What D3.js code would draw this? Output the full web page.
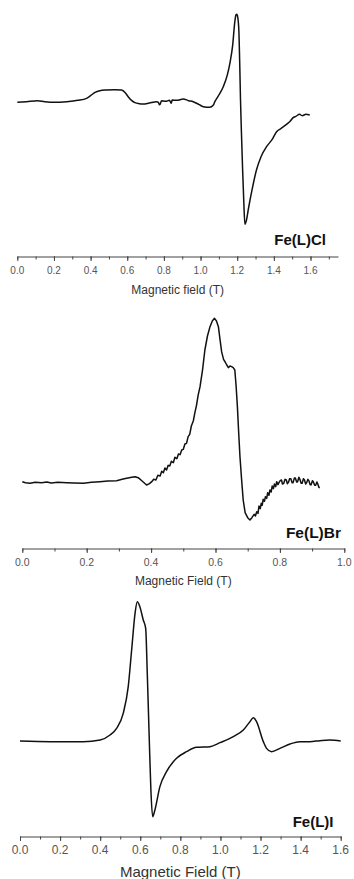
<!DOCTYPE html>
<html>
<head>
<meta charset="utf-8">
<script src="https://cdn.jsdelivr.net/npm/d3@7"></script>
<style>
    body { margin: 0; background: #fff; }
    svg { display: block; font-family: "Liberation Sans", Arial, sans-serif; }
    .tick-label { fill: #555; }
    .axis-title { fill: #333; }
    .sample { font-weight: bold; fill: #111; }
</style>
</head>
<body>
<svg width="354" height="879"></svg>
<script>
// Fe(L)Cl spectrum
let clField = [0.000, 0.050, 0.110, 0.150, 0.200, 0.270, 0.330, 0.378, 0.400, 0.424, 0.450, 0.487, 0.530, 0.569, 0.590, 0.605,
    0.625, 0.642, 0.665, 0.687, 0.720, 0.760, 0.770, 0.775, 0.780, 0.787, 0.810, 0.830, 0.840, 0.845, 0.870, 0.905,
    0.935, 0.960, 0.990, 1.015, 1.050, 1.070, 1.078, 1.100, 1.124, 1.145, 1.160, 1.175, 1.187, 1.193, 1.198, 1.203,
    1.209, 1.214, 1.218, 1.223, 1.229, 1.236, 1.242, 1.250, 1.260, 1.280, 1.305, 1.330, 1.360, 1.390, 1.415, 1.440,
    1.469, 1.490, 1.505, 1.520, 1.540, 1.555, 1.575, 1.596]
let clSignal = [0, 2, 5, 2, 0, 2, 6, 12, 20, 30, 35, 37, 38, 37, 28, 17,
    5, -1, -4, -5, -2, 2, 0, -7, -5, 5, 3, 6, -3, 7, 6, 10,
    5, 2, -6, -13, -15, -8, 2, 22, 47, 80, 117, 170, 242, 262, 264, 255,
    215, 110, 7, -90, -193, -300, -366, -355, -323, -265, -203, -163, -133, -112, -88, -78,
    -66, -56, -46, -42, -36, -40, -36, -38]

// Fe(L)Br spectrum
let brField = [0.000, 0.010, 0.024, 0.040, 0.060, 0.076, 0.090, 0.110, 0.138, 0.160, 0.190, 0.215, 0.241, 0.265, 0.293, 0.310,
    0.324, 0.340, 0.350, 0.360, 0.372, 0.386, 0.395, 0.402, 0.408, 0.415, 0.421, 0.428, 0.433, 0.438, 0.443, 0.448,
    0.453, 0.458, 0.463, 0.469, 0.474, 0.480, 0.485, 0.490, 0.495, 0.500, 0.505, 0.510, 0.515, 0.520, 0.525, 0.531,
    0.536, 0.541, 0.546, 0.552, 0.560, 0.567, 0.575, 0.583, 0.590, 0.597, 0.603, 0.609, 0.614, 0.619, 0.625, 0.630,
    0.635, 0.640, 0.645, 0.650, 0.655, 0.660, 0.664, 0.668, 0.672, 0.676, 0.681, 0.686, 0.692, 0.700, 0.707, 0.713,
    0.720, 0.724, 0.728, 0.732, 0.735, 0.739, 0.742, 0.745, 0.748, 0.752, 0.755, 0.759, 0.762, 0.766, 0.769, 0.773,
    0.776, 0.780, 0.783, 0.787, 0.790, 0.794, 0.797, 0.801, 0.805, 0.808, 0.812, 0.816, 0.820, 0.823, 0.827, 0.830,
    0.834, 0.838, 0.841, 0.845, 0.848, 0.852, 0.855, 0.859, 0.862, 0.866, 0.869, 0.873, 0.876, 0.880, 0.883, 0.887,
    0.890, 0.894, 0.897, 0.901, 0.904, 0.908, 0.911, 0.915, 0.918, 0.921, 0.924]
let brSignal = [3, 0, -2, 1, 0, 2, -1, 1, 0, -1, -2, 1, 3, 5, 6, 10,
    13, 16, 18, 15, 5, -7, -3, 3, 10, 8, 22, 20, 34, 30, 44, 38,
    52, 50, 64, 60, 76, 72, 86, 84, 98, 100, 116, 118, 138, 145, 170, 185,
    210, 232, 262, 288, 340, 398, 440, 468, 485, 493, 485, 468, 430, 393, 370, 362,
    353, 345, 350, 348, 345, 338, 290, 228, 150, 78, 10, -52, -90, -105, -112, -105,
    -95, -100, -87, -92, -70, -78, -62, -68, -50, -56, -42, -47, -30, -38, -22, -28,
    -10, -18, -4, -12, 3, -6, 0, 6, 8, -4, -2, 10, 8, -3, 2, 12,
    12, 0, 0, 14, 14, 2, 3, 16, 10, -2, -2, 12, 9, -4, 0, 10,
    6, -6, -6, 6, 2, -8, -8, 2, -5, -14, -15]

// Fe(L)I spectrum
let iField = [0.000, 0.150, 0.316, 0.400, 0.449, 0.482, 0.515, 0.540, 0.557, 0.574, 0.585, 0.598, 0.615, 0.627, 0.635, 0.645,
    0.653, 0.662, 0.673, 0.698, 0.731, 0.781, 0.831, 0.881, 0.948, 0.998, 1.064, 1.114, 1.147, 1.164, 1.180, 1.214,
    1.230, 1.255, 1.297, 1.347, 1.396, 1.446, 1.496, 1.546, 1.600]
let iSignal = [0, -2, -2, 3, 18, 38, 83, 163, 273, 383, 418, 403, 363, 338, 203, 3,
    -147, -227, -207, -137, -92, -52, -32, -19, -17, -5, 13, 33, 58, 70, 58, -2,
    -22, -32, -22, -9, -2, -2, 1, 3, 0]

let clTicks = [0, 0.2, 0.4, 0.6, 0.8, 1.0, 1.2, 1.4, 1.6]
let brTicks = [0, 0.2, 0.4, 0.6, 0.8, 1.0]
let iTicks = [0, 0.2, 0.4, 0.6, 0.8, 1.0, 1.2, 1.4, 1.6]

let panels = [
    {
        name: 'Fe(L)Cl', title: 'Magnetic field (T)', field: clField, signal: clSignal, ticks: clTicks,
        xDomain: [0, 1.75], xRange: [17.3, 338], yDomain: [-413, 307], yRange: [240, 0],
        axisY: 256.5, nameX: 326, nameY: 245, nameSize: 15, tickSize: 10, labelY: 273.5, titleY: 294, titleSize: 12,
        curve: d3.curveMonotoneX
    },
    {
        name: 'Fe(L)Br', title: 'Magnetic Field (T)', field: brField, signal: brSignal, ticks: brTicks,
        xDomain: [0, 1.0], xRange: [22.3, 344.3], yDomain: [-142, 578], yRange: [530, 290],
        axisY: 548.5, nameX: 341, nameY: 538, nameSize: 15.5, tickSize: 10.5, labelY: 565.5, titleY: 584.5, titleSize: 12,
        curve: d3.curveLinear
    },
    {
        name: 'Fe(L)I', title: 'Magnetic Field (T)', field: iField, signal: iSignal, ticks: iTicks,
        xDomain: [0, 1.6], xRange: [20, 340.7], yDomain: [-237, 453], yRange: [820, 590],
        axisY: 836.5, nameX: 333.5, nameY: 826.5, nameSize: 15, tickSize: 12, labelY: 854, titleY: 877, titleSize: 15,
        curve: d3.curveMonotoneX
    }
]

let svg = d3.select('svg')

panels.forEach(p => drawPanel(p))

function drawPanel(p) {
    let scale = {
        x: d3.scaleLinear().domain(p.xDomain).range(p.xRange),
        y: d3.scaleLinear().domain(p.yDomain).range(p.yRange)
    }

    // minor ticks every 0.1
    let minor = d3.range(0, p.xDomain[1] + 0.001, 0.1).map(d => +d.toFixed(1))

    let axisMinor = d3.axisBottom(scale.x)
        .tickValues(minor)
        .tickSize(3)
        .tickSizeOuter(0)
        .tickFormat('')

    let axisMajor = d3.axisBottom(scale.x)
        .tickValues(p.ticks)
        .tickSize(4.5)
        .tickSizeOuter(0)
        .tickFormat('')

    let gMinor = svg.append('g')
        .attr('transform', `translate(0,${p.axisY})`)
        .call(axisMinor)
    let gMajor = svg.append('g')
        .attr('transform', `translate(0,${p.axisY})`)
        .call(axisMajor)
    gMajor.select('.domain').remove()
    gMinor.select('.domain').attr('stroke', '#444').attr('stroke-width', 1.1)
    svg.selectAll('.tick line').attr('stroke', '#444')

    // tick labels
    svg.append('g')
        .selectAll('text')
        .data(p.ticks)
        .enter()
        .append('text')
        .attr('class', 'tick-label')
        .attr('x', d => scale.x(d))
        .attr('y', p.labelY)
        .attr('text-anchor', 'middle')
        .style('font-size', p.tickSize + 'px')
        .text(d => d3.format('.1f')(d))

    // axis title
    svg.append('text')
        .attr('class', 'axis-title')
        .attr('x', (p.xRange[0] + p.xRange[1]) / 2)
        .attr('y', p.titleY)
        .attr('text-anchor', 'middle')
        .style('font-size', p.titleSize + 'px')
        .text(p.title)

    // sample name
    svg.append('text')
        .attr('class', 'sample')
        .attr('x', p.nameX)
        .attr('y', p.nameY)
        .attr('text-anchor', 'end')
        .style('font-size', p.nameSize + 'px')
        .text(p.name)

    // spectrum
    let data = p.field.map((f, i) => ({ field: f, signal: p.signal[i] }))
    let line = d3.line()
        .x(d => scale.x(d.field))
        .y(d => scale.y(d.signal))
        .curve(p.curve)

    svg.append('path')
        .datum(data)
        .attr('d', line)
        .style('fill', 'none')
        .style('stroke', '#111')
        .style('stroke-width', 1.5)
        .style('stroke-linejoin', 'round')
}
</script>
</body>
</html>
